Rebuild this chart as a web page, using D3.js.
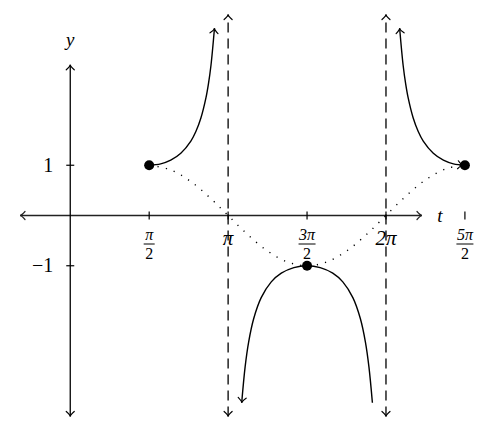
<!DOCTYPE html>
<html>
<head>
<meta charset="utf-8">
<script src="https://cdn.jsdelivr.net/npm/d3@7"></script>
<style>
  html, body { margin: 0; padding: 0; background: #fff; }
  text { font-family: "Liberation Serif", "DejaVu Serif", serif; fill: #000; }
</style>
</head>
<body>
<div id="chart"></div>
<script>
/* csc(t) over [pi/2, 5pi/2] with sin(t) dotted underneath */
const PI = Math.PI;

const xDomain = [-1, 7];
const yDomain = [-4, 4];
const yAxisExtent = [-4, 3];

const xTicks = [PI / 2, PI, 3 * PI / 2, 2 * PI, 5 * PI / 2];
const xTickLabels = [["π", "2"], ["π"], ["3π", "2"], ["2π"], ["5π", "2"]];
const yTicks = [1, -1];
const yTickLabels = ["1", "−1"];
const asymptotes = [PI, 2 * PI];

// points: [t, value]
const cscLeft = [[1.571, 1], [1.8, 1.027], [2.0, 1.1], [2.2, 1.237], [2.4, 1.48], [2.5, 1.671],
  [2.6, 1.94], [2.7, 2.34], [2.75, 2.62], [2.8, 2.985], [2.87, 3.727]];
const cscMiddle = [[3.412, -3.727], [3.48, -3.012], [3.55, -2.518], [3.65, -2.055], [3.8, -1.635],
  [4.0, -1.321], [4.2, -1.147], [4.45, -1.036], [4.712, -1], [4.974, -1.036], [5.224, -1.147],
  [5.424, -1.321], [5.624, -1.635], [5.774, -2.055], [5.874, -2.518], [5.944, -3.012], [6.013, -3.727]];
const cscRight = [[6.555, 3.727], [6.625, 2.985], [6.675, 2.62], [6.725, 2.34], [6.825, 1.94],
  [6.925, 1.671], [7.025, 1.48], [7.225, 1.237], [7.425, 1.1], [7.625, 1.027], [7.854, 1]];
const sineDotted = [[1.571, 1], [2.0, 0.909], [2.4, 0.675], [2.8, 0.335], [3.142, 0], [3.5, -0.351],
  [3.9, -0.688], [4.3, -0.916], [4.712, -1], [5.1, -0.926], [5.5, -0.706], [5.9, -0.374],
  [6.283, 0], [6.7, 0.405], [7.1, 0.729], [7.5, 0.938], [7.854, 1]];
const keyPoints = [[PI / 2, 1], [3 * PI / 2, -1], [5 * PI / 2, 1]];

const W = 495, H = 433;
const svg = d3.select("#chart").append("svg").attr("width", W).attr("height", H);

const x = d3.scaleLinear().domain(xDomain).range([20, 422]);
const y = d3.scaleLinear().domain(yDomain).range([416.5, 14.5]);

// open "to"-style arrow head at (px,py) pointing along angle a
function arrowHead(px, py, a, col) {
  const len = 5, half = 4;
  const c = Math.cos(a), s = Math.sin(a);
  const bx = px - len * c, by = py - len * s;
  const p1 = [bx - half * s, by + half * c], p2 = [bx + half * s, by - half * c];
  svg.append("path")
    .attr("d", `M${p1[0]},${p1[1]} Q${px - 1.5 * c},${py - 1.5 * s} ${px},${py} Q${px - 1.5 * c},${py - 1.5 * s} ${p2[0]},${p2[1]}`)
    .attr("fill", "none").attr("stroke", col || "#000").attr("stroke-width", 1.2)
    .attr("stroke-linecap", "round");
}
function arrowAlong(pts, atEnd) {
  const a = atEnd ? pts[pts.length - 2] : pts[1];
  const b = atEnd ? pts[pts.length - 1] : pts[0];
  const ang = Math.atan2(y(b[1]) - y(a[1]), x(b[0]) - x(a[0]));
  arrowHead(x(b[0]), y(b[1]), ang);
}

// axes
const axisCol = "#222";
svg.append("line").attr("x1", x(xDomain[0])).attr("x2", x(xDomain[1]))
  .attr("y1", y(0)).attr("y2", y(0)).attr("stroke", axisCol).attr("stroke-width", 1.3);
arrowHead(x(xDomain[0]), y(0), PI, axisCol);
arrowHead(x(xDomain[1]), y(0), 0, axisCol);
svg.append("line").attr("x1", x(0)).attr("x2", x(0))
  .attr("y1", y(yAxisExtent[0])).attr("y2", y(yAxisExtent[1]))
  .attr("stroke", "#000").attr("stroke-width", 1.3);
arrowHead(x(0), y(yAxisExtent[1]), -PI / 2);
arrowHead(x(0), y(yAxisExtent[0]), PI / 2);

svg.append("text").attr("x", x(0)).attr("y", 46).attr("text-anchor", "middle")
  .attr("font-style", "italic").attr("font-size", 19).text("y");
svg.append("text").attr("x", x(xDomain[1]) + 18).attr("y", y(0) + 6).attr("text-anchor", "middle")
  .attr("font-style", "italic").attr("font-size", 19).text("t");

// x ticks + labels
xTicks.forEach((t, i) => {
  svg.append("line").attr("x1", x(t)).attr("x2", x(t))
    .attr("y1", y(0) - 4).attr("y2", y(0) + 4).attr("stroke", "#000").attr("stroke-width", 1.2);
  const lab = xTickLabels[i];
  if (lab.length === 1) {
    svg.append("text").attr("x", x(t)).attr("y", 245).attr("text-anchor", "middle")
      .attr("font-size", 21).attr("font-style", "italic").text(lab[0]);
  } else {
    svg.append("text").attr("x", x(t)).attr("y", 239.5).attr("text-anchor", "middle")
      .attr("font-size", 16).attr("font-style", "italic").text(lab[0]);
    const bw = lab[0].length > 1 ? 17 : 11;
    svg.append("line").attr("x1", x(t) - bw / 2).attr("x2", x(t) + bw / 2)
      .attr("y1", 244).attr("y2", 244).attr("stroke", "#000").attr("stroke-width", 1);
    svg.append("text").attr("x", x(t)).attr("y", 259).attr("text-anchor", "middle")
      .attr("font-size", 16).text(lab[1]);
  }
});

// y ticks + labels
yTicks.forEach((v, i) => {
  svg.append("line").attr("x1", x(0) - 4).attr("x2", x(0) + 4)
    .attr("y1", y(v)).attr("y2", y(v)).attr("stroke", "#000").attr("stroke-width", 1.2);
  svg.append("text").attr("x", x(0) - 17).attr("y", y(v) + 6.5).attr("text-anchor", "end")
    .attr("font-size", 20).text(yTickLabels[i]);
});

// asymptotes
asymptotes.forEach(a => {
  svg.append("line").attr("x1", x(a)).attr("x2", x(a))
    .attr("y1", y(yDomain[0])).attr("y2", y(yDomain[1]))
    .attr("stroke", "#000").attr("stroke-width", 1.3).attr("stroke-dasharray", "10,6");
  arrowHead(x(a), y(yDomain[1]), -PI / 2);
  arrowHead(x(a), y(yDomain[0]), PI / 2);
});

const line = d3.line().x(d => x(d[0])).y(d => y(d[1])).curve(d3.curveCatmullRom.alpha(0.5));

// dotted sine
svg.append("path").datum(sineDotted).attr("d", line)
  .attr("fill", "none").attr("stroke", "#000").attr("stroke-width", 1.4)
  .attr("stroke-dasharray", "1.2,7.2");

// csc branches
[cscLeft, cscMiddle, cscRight].forEach(b => {
  svg.append("path").datum(b).attr("d", line)
    .attr("fill", "none").attr("stroke", "#000").attr("stroke-width", 1.4);
});
arrowAlong(cscLeft, true);
arrowAlong(cscMiddle, false);
arrowAlong(cscRight, false);
arrowHead(x(cscRight[cscRight.length - 1][0]) - 2, y(1), 0.1);

// key points
svg.selectAll("circle.kp").data(keyPoints).join("circle").attr("class", "kp")
  .attr("cx", d => x(d[0])).attr("cy", d => y(d[1])).attr("r", 5).attr("fill", "#000");
</script>
</body>
</html>
